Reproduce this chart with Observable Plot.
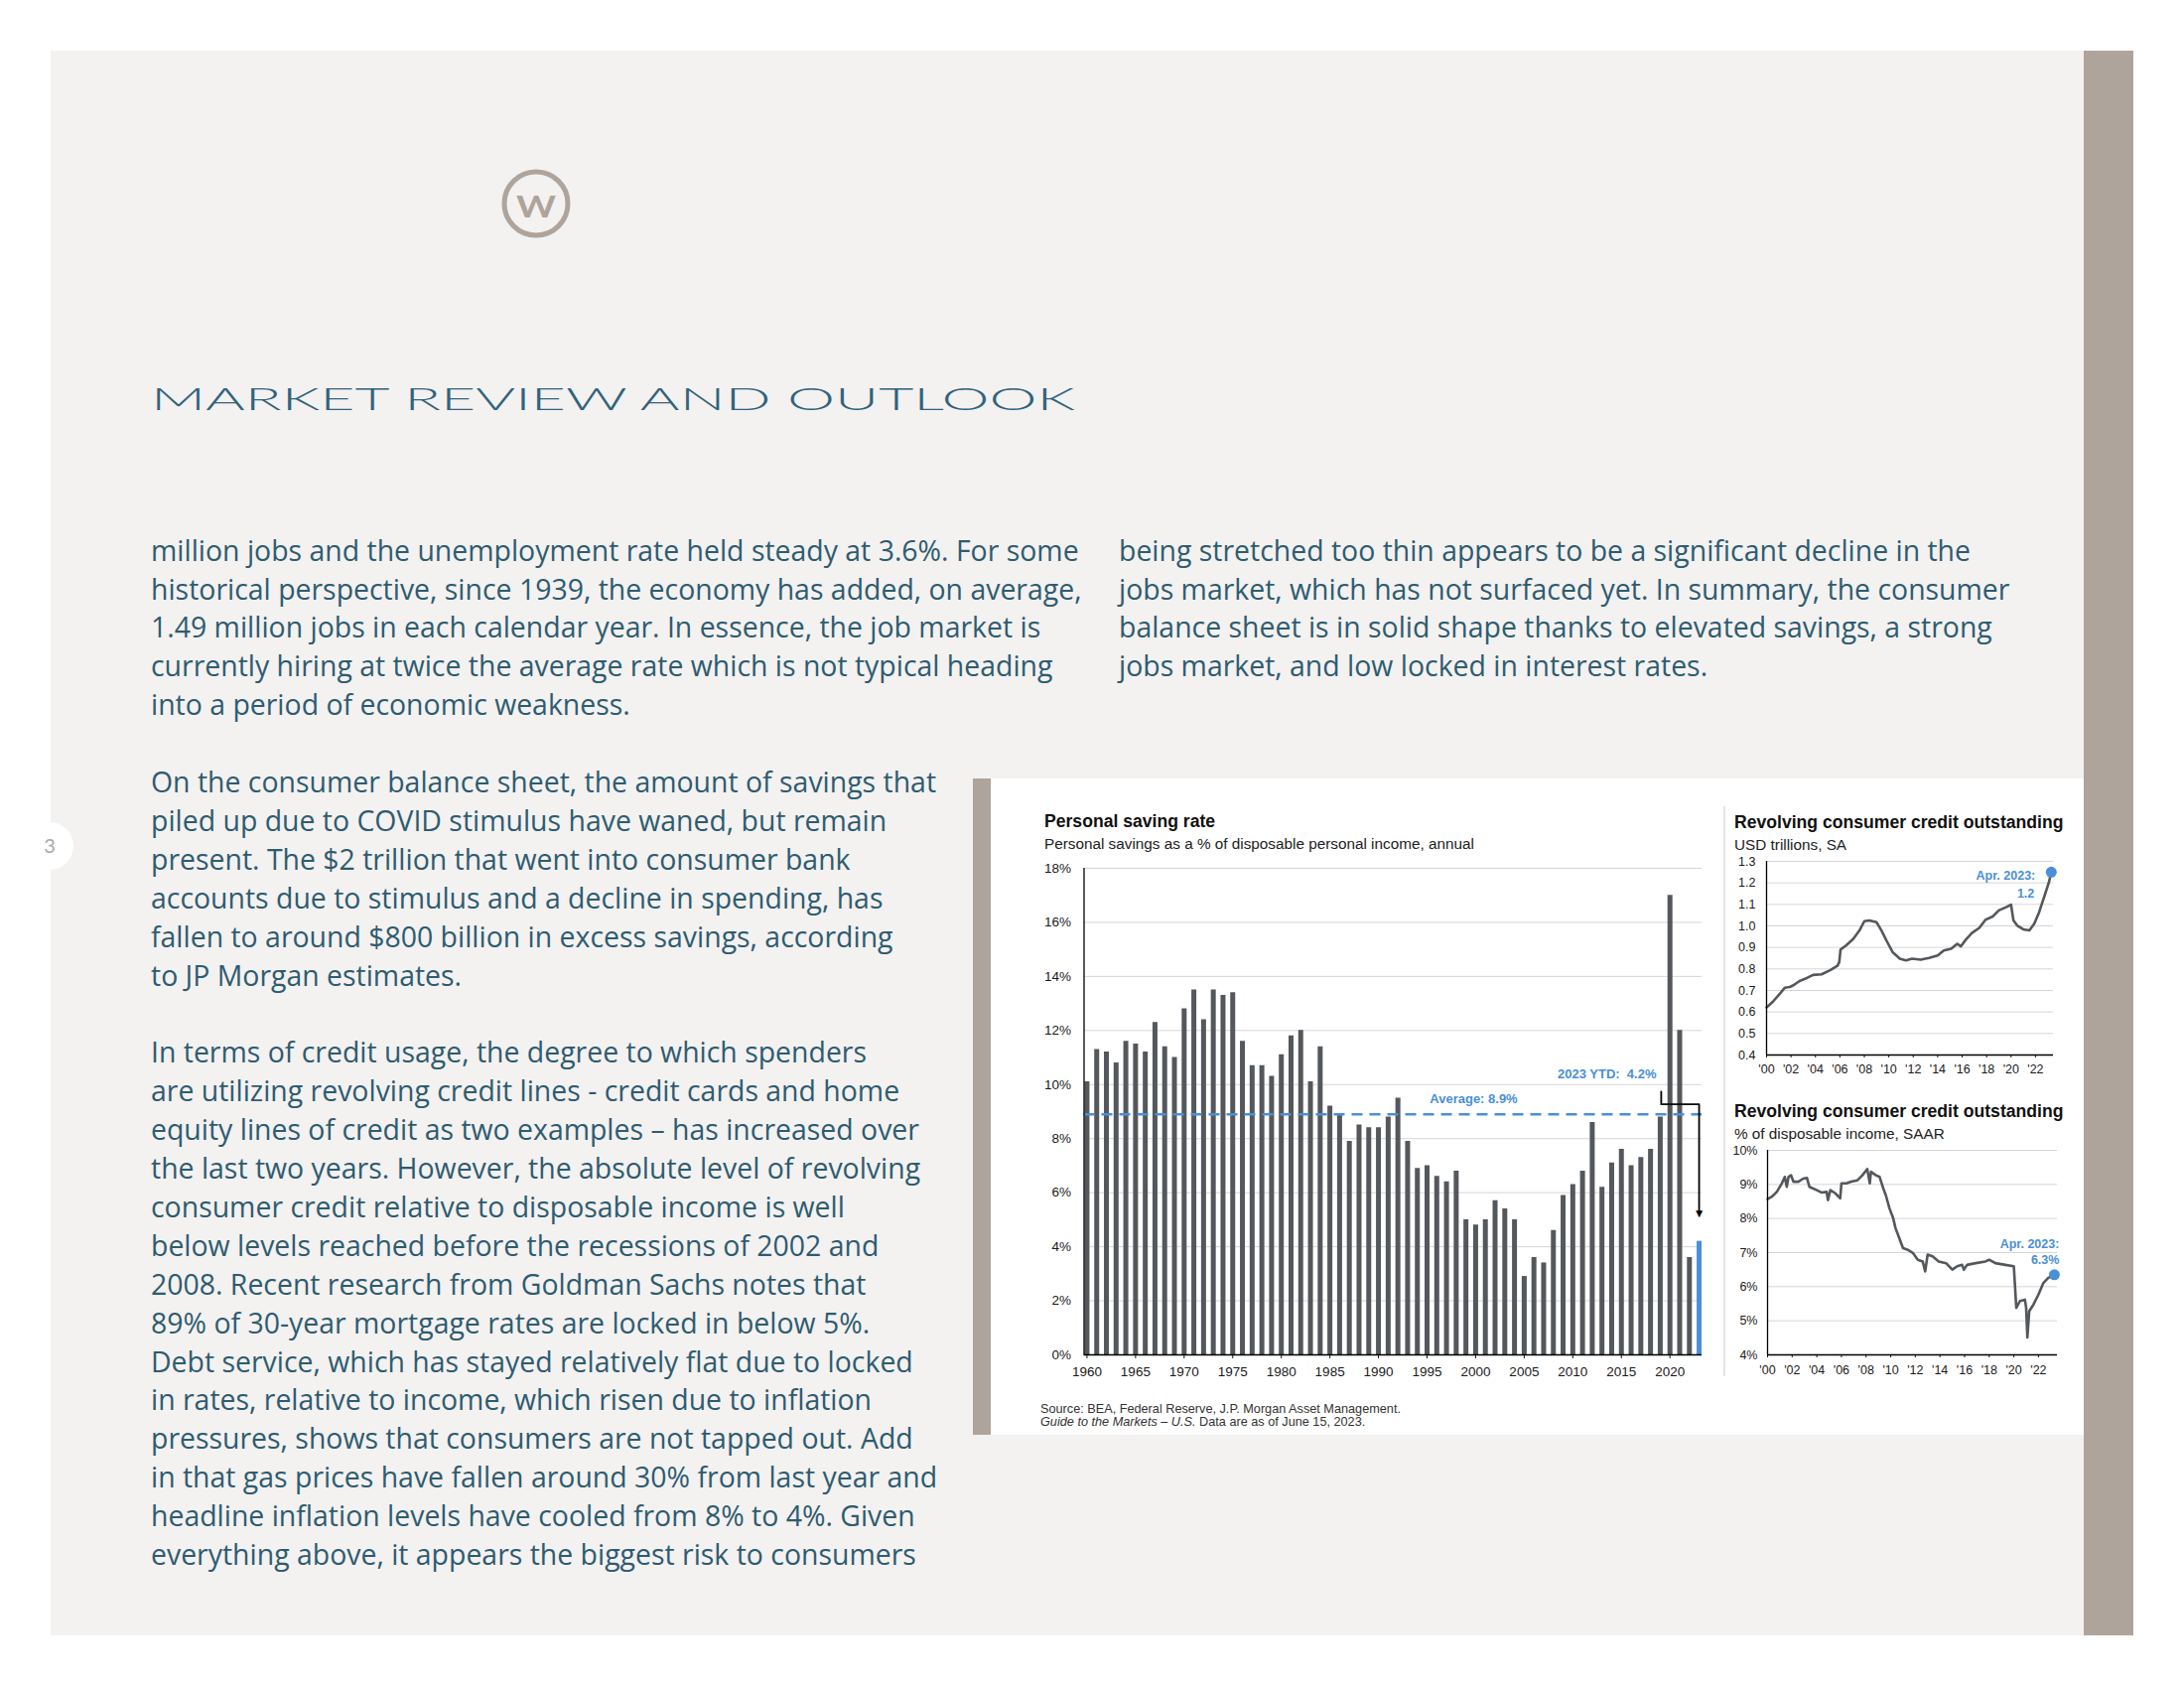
<!DOCTYPE html>
<html><head><meta charset="utf-8">
<script src="https://cdn.jsdelivr.net/npm/d3@7"></script>
<script src="https://cdn.jsdelivr.net/npm/@observablehq/plot@0.6"></script>
<style>
html,body{margin:0;padding:0;background:#fff;}
#page{position:relative;width:2200px;height:1700px;overflow:hidden;}
.abs{position:absolute;}
.ct{position:absolute;font-family:"Liberation Sans",Arial,sans-serif;color:#111;white-space:nowrap;}
.ct.t{font-weight:bold;font-size:17.6px;line-height:20px;}
.ct.s{font-size:15.3px;line-height:20px;color:#222;}
.ct.f{font-size:12.7px;line-height:13px;color:#333;}
</style></head><body><div id="page"></div>
<script>
// ---------------- DATA ----------------
const savingRate = [10.1, 11.3, 11.2, 10.8, 11.6, 11.5, 11.2, 12.3, 11.4, 11.0,
  12.8, 13.5, 12.4, 13.5, 13.3, 13.4, 11.6, 10.7, 10.7, 10.3,
  11.1, 11.8, 12.0, 10.1, 11.4, 9.2, 8.9, 7.9, 8.5, 8.4,
  8.4, 8.8, 9.5, 7.9, 6.9, 7.0, 6.6, 6.4, 6.8, 5.0,
  4.8, 5.0, 5.7, 5.4, 5.0, 2.9, 3.6, 3.4, 4.6, 5.9,
  6.3, 6.8, 8.6, 6.2, 7.1, 7.6, 7.0, 7.3, 7.6, 8.8,
  17.0, 12.0, 3.6];
const savingFirstYear = 1960;
const ytdYear = 2023, ytdRate = 4.2;
const savingAvg = 8.9;
const savingXTicks = [1960, 1965, 1970, 1975, 1980, 1985, 1990, 1995, 2000, 2005, 2010, 2015, 2020];
const savingYTicks = [0, 2, 4, 6, 8, 10, 12, 14, 16, 18];

const creditUsdYear = [2000.0, 2000.5, 2001.1, 2001.5, 2001.9, 2002.2, 2002.7, 2003.3, 2003.8, 2004.5,
  2005.2, 2005.8, 2005.95, 2006.05, 2006.5, 2007.1, 2007.6, 2008.0, 2008.4, 2009.0,
  2009.4, 2009.8, 2010.3, 2010.9, 2011.4, 2011.9, 2012.6, 2013.3, 2014.0, 2014.5,
  2015.1, 2015.6, 2015.9, 2016.3, 2016.8, 2017.4, 2017.9, 2018.5, 2019.0, 2019.6,
  2020.0, 2020.2, 2020.5, 2021.0, 2021.5, 2021.9, 2022.3, 2022.7, 2023.1, 2023.29];
const creditUsd = [0.621, 0.647, 0.686, 0.713, 0.716, 0.724, 0.744, 0.758, 0.772, 0.775,
  0.794, 0.815, 0.832, 0.890, 0.909, 0.940, 0.979, 1.022, 1.025, 1.017,
  0.979, 0.933, 0.879, 0.848, 0.840, 0.848, 0.843, 0.851, 0.863, 0.886,
  0.894, 0.917, 0.905, 0.936, 0.967, 0.991, 1.028, 1.044, 1.072, 1.087,
  1.099, 1.025, 1.002, 0.984, 0.979, 1.010, 1.064, 1.133, 1.203, 1.250];
const usdYTicks = [0.4, 0.5, 0.6, 0.7, 0.8, 0.9, 1.0, 1.1, 1.2, 1.3];

const creditPctYear = [2000.0, 2000.35, 2000.75, 2001.16, 2001.4, 2001.56, 2001.7, 2001.9, 2002.1, 2002.5,
  2002.9, 2003.2, 2003.4, 2004.0, 2004.4, 2004.8, 2004.9, 2005.1, 2005.5, 2005.9,
  2006.0, 2006.4, 2006.8, 2007.3, 2007.7, 2008.1, 2008.3, 2008.4, 2008.8, 2009.1,
  2009.4, 2009.6, 2009.9, 2010.2, 2010.4, 2010.7, 2011.0, 2011.4, 2011.8, 2012.2,
  2012.6, 2012.8, 2013.0, 2013.4, 2013.9, 2014.5, 2015.0, 2015.4, 2015.8, 2015.95,
  2016.2, 2016.9, 2017.7, 2018.0, 2018.5, 2019.3, 2020.0, 2020.2, 2020.5, 2020.9,
  2021.0, 2021.1, 2021.25, 2021.6, 2022.0, 2022.4, 2022.8, 2023.29];
const creditPct = [8.57, 8.64, 8.78, 9.03, 9.22, 8.93, 9.22, 9.27, 9.08, 9.08,
  9.17, 9.19, 8.93, 8.83, 8.76, 8.78, 8.54, 8.83, 8.74, 8.59,
  9.03, 9.03, 9.08, 9.12, 9.27, 9.45, 9.03, 9.37, 9.27, 9.22,
  8.88, 8.69, 8.30, 8.01, 7.71, 7.42, 7.13, 7.08, 6.99, 6.79,
  6.74, 6.45, 6.94, 6.89, 6.74, 6.69, 6.50, 6.60, 6.64, 6.50,
  6.64, 6.69, 6.74, 6.79, 6.69, 6.64, 6.60, 5.38, 5.58, 5.62,
  5.38, 4.51, 5.28, 5.48, 5.77, 6.11, 6.26, 6.35];
const pctYTicks = [4, 5, 6, 7, 8, 9, 10];
const creditXTicks = [2000, 2002, 2004, 2006, 2008, 2010, 2012, 2014, 2016, 2018, 2020, 2022];

// ---------------- PAGE TEXT ----------------
const para1 = [
  "million jobs and the unemployment rate held steady at 3.6%. For some",
  "historical perspective, since 1939, the economy has added, on average,",
  "1.49 million jobs in each calendar year. In essence, the job market is",
  "currently hiring at twice the average rate which is not typical heading",
  "into a period of economic weakness."];
const para2 = [
  "On the consumer balance sheet, the amount of savings that",
  "piled up due to COVID stimulus have waned, but remain",
  "present. The $2 trillion that went into consumer bank",
  "accounts due to stimulus and a decline in spending, has",
  "fallen to around $800 billion in excess savings, according",
  "to JP Morgan estimates."];
const para3 = [
  "In terms of credit usage, the degree to which spenders",
  "are utilizing revolving credit lines - credit cards and home",
  "equity lines of credit as two examples – has increased over",
  "the last two years. However, the absolute level of revolving",
  "consumer credit relative to disposable income is well",
  "below levels reached before the recessions of 2002 and",
  "2008. Recent research from Goldman Sachs notes that",
  "89% of 30-year mortgage rates are locked in below 5%.",
  "Debt service, which has stayed relatively flat due to locked",
  "in rates, relative to income, which risen due to inflation",
  "pressures, shows that consumers are not tapped out. Add",
  "in that gas prices have fallen around 30% from last year and",
  "headline inflation levels have cooled from 8% to 4%. Given",
  "everything above, it appears the biggest risk to consumers"];
const paraRight = [
  "being stretched too thin appears to be a significant decline in the",
  "jobs market, which has not surfaced yet. In summary, the consumer",
  "balance sheet is in solid shape thanks to elevated savings, a strong",
  "jobs market, and low locked in interest rates."];

// ---------------- STYLE ----------------
const blue = "#4a8fd8";
const barGray = "#54585c";
const gridGray = "#d6d6d6";
const taupe = "#afa49b";
const textTeal = "#2d5c70";

const page = d3.select("#page");

// background layer
const bg = page.append("svg").attr("class", "abs").style("left", "0px").style("top", "0px")
  .attr("width", 2200).attr("height", 1700);
bg.append("rect").attr("x", 51).attr("y", 51).attr("width", 2048).attr("height", 1596).attr("fill", "#f4f1f1");
bg.append("rect").attr("x", 2099).attr("y", 51).attr("width", 50).attr("height", 1596).attr("fill", taupe);
bg.append("circle").attr("cx", 50).attr("cy", 852).attr("r", 24).attr("fill", "#fff");
bg.append("text").attr("x", 50).attr("y", 859).attr("text-anchor", "middle")
  .attr("font-family", "Lato, sans-serif").attr("font-size", 20).attr("fill", "#a9a9a9").text("3");
// logo
bg.append("circle").attr("cx", 540).attr("cy", 205).attr("r", 32)
  .attr("fill", "none").attr("stroke", taupe).attr("stroke-width", 5);
bg.append("text").attr("x", 540).attr("y", 219).attr("text-anchor", "middle")
  .attr("font-family", "Lato, sans-serif").attr("font-weight", 700).attr("font-size", 30)
  .attr("textLength", 40).attr("lengthAdjust", "spacingAndGlyphs").attr("fill", taupe).text("W");
// title
bg.append("text").attr("x", 152).attr("y", 413)
  .attr("font-family", "Lato, sans-serif").attr("font-weight", 300).attr("font-size", 32)
  .attr("textLength", 931).attr("lengthAdjust", "spacingAndGlyphs")
  .attr("fill", "#30637c").text("MARKET REVIEW AND OUTLOOK");

// body text
const lh = 38.9;
const bodyLines = [];
para1.forEach((t, i) => bodyLines.push({t, x: 152, y: 564.6 + i * lh}));
para2.forEach((t, i) => bodyLines.push({t, x: 152, y: 798 + i * lh}));
para3.forEach((t, i) => bodyLines.push({t, x: 152, y: 1070.3 + i * lh}));
paraRight.forEach((t, i) => bodyLines.push({t, x: 1127, y: 564.6 + i * lh}));
const bodySel = bg.selectAll("text.body").data(bodyLines).join("text").attr("class", "body")
  .attr("x", d => d.x).attr("y", d => d.y)
  .attr("font-family", "'Open Sans', sans-serif").attr("font-size", 26)
  .attr("fill", textTeal).style("white-space", "pre").text(d => d.t);
const w0 = bodySel.node().getComputedTextLength();
if (w0 > 0) bodySel.attr("font-size", 26 * 935 / w0);

// chart box
bg.append("rect").attr("x", 980).attr("y", 784).attr("width", 18).attr("height", 661).attr("fill", taupe);
bg.append("rect").attr("x", 998).attr("y", 784).attr("width", 1101).attr("height", 661).attr("fill", "#fff");
bg.append("line").attr("x1", 1737).attr("x2", 1737).attr("y1", 812).attr("y2", 1386)
  .attr("stroke", "#d3d3d3").attr("stroke-width", 1.2);

function place(node, left, top) {
  const d = page.append("div").attr("class", "abs").style("left", left + "px").style("top", top + "px");
  d.node().appendChild(node);
}
const axisStyle = {background: "transparent", fontFamily: "'Liberation Sans', Arial, sans-serif", color: "#1a1a1a", overflow: "visible"};

// ---------------- CHART 1: Personal saving rate ----------------
const savingData = savingRate.map((rate, i) => ({year: savingFirstYear + i, rate}));
const ytdData = [{year: ytdYear, rate: ytdRate}];
const xDom1 = [1959.7, 2023.3];
const arrowPath = [{x: 2019.1, y: 9.74}, {x: 2019.1, y: 9.27}, {x: 2023.0, y: 9.27}, {x: 2023.0, y: 5.3}];
const p1 = Plot.plot({
  width: 730, height: 540, marginLeft: 91.5, marginRight: 16, marginTop: 14, marginBottom: 36,
  style: {...axisStyle, fontSize: "13.5px"},
  x: {domain: xDom1, ticks: savingXTicks, tickFormat: d => String(d), tickSize: 4, tickPadding: 8, label: null},
  y: {domain: [0, 18], ticks: savingYTicks, tickFormat: d => d + "%", tickSize: 0, tickPadding: 13, label: null},
  marks: [
    Plot.ruleY(savingYTicks.filter(d => d > 0), {stroke: gridGray, strokeWidth: 1}),
    Plot.ruleX(savingData, {x: "year", y1: 0, y2: "rate", stroke: barGray, strokeWidth: 5}),
    Plot.ruleX(ytdData, {x: "year", y1: 0, y2: "rate", stroke: blue, strokeWidth: 5}),
    Plot.ruleY([savingAvg], {stroke: blue, strokeWidth: 2.5, strokeDasharray: "11,7"}),
    Plot.line(arrowPath, {x: "x", y: "y", stroke: "#000", strokeWidth: 1.8}),
    Plot.text([arrowPath[3]], {x: "x", y: "y", text: () => "▼", fill: "#000", fontSize: 12, dy: 2}),
    Plot.text([{x: 1999.8, y: savingAvg}], {x: "x", y: "y", text: () => "Average: " + savingAvg + "%", fill: blue, fontWeight: "bold", fontSize: 13, dy: -15}),
    Plot.text(ytdData, {x: () => 2018.6, y: () => 10.4, text: d => d.year + " YTD:  " + d.rate + "%", textAnchor: "end", fill: blue, fontWeight: "bold", fontSize: 13}),
    Plot.ruleX([xDom1[0]], {stroke: "#000", strokeWidth: 1.3}),
    Plot.ruleY([0], {stroke: "#000", strokeWidth: 1.3})
  ]
});
place(p1, 1000, 860);

// ---------------- CHART 2: Revolving credit, USD ----------------
const usdData = creditUsdYear.map((t, i) => ({t, v: creditUsd[i]}));
const xDom2 = [2000, 2023.47];
const p2 = Plot.plot({
  width: 340, height: 233, marginLeft: 39, marginRight: 12, marginTop: 12, marginBottom: 26,
  style: {...axisStyle, fontSize: "12.5px"},
  x: {domain: xDom2, ticks: creditXTicks, tickFormat: d => "'" + String(d).slice(2), tickSize: 3, tickPadding: 7, label: null},
  y: {domain: [0.4, 1.3], ticks: usdYTicks, tickFormat: d => d.toFixed(1), tickSize: 0, tickPadding: 11, label: null},
  marks: [
    Plot.ruleY(usdYTicks.filter(d => d > 0.4), {stroke: gridGray}),
    Plot.line(usdData, {x: "t", y: "v", stroke: barGray, strokeWidth: 2.6}),
    Plot.dot(usdData.slice(-1), {x: "t", y: "v", r: 5.5, fill: blue}),
    Plot.text(usdData.slice(-1), {x: "t", y: "v", text: () => "Apr. 2023:", textAnchor: "end", dx: -16, dy: 4, fill: blue, fontWeight: "bold", fontSize: 12.5}),
    Plot.text(usdData.slice(-1), {x: "t", y: "v", text: () => "1.2", textAnchor: "end", dx: -17, dy: 22, fill: blue, fontWeight: "bold", fontSize: 12.5}),
    Plot.ruleX([xDom2[0]], {stroke: "#000", strokeWidth: 1.3}),
    Plot.ruleY([0.4], {stroke: "#000", strokeWidth: 1.3})
  ]
});
place(p2, 1740, 855);

// ---------------- CHART 3: Revolving credit, % of income ----------------
const pctData = creditPctYear.map((t, i) => ({t, v: creditPct[i]}));
const xDom3 = [2000, 2023.54];
const p3 = Plot.plot({
  width: 342, height: 244, marginLeft: 40, marginRight: 10, marginTop: 12, marginBottom: 26,
  style: {...axisStyle, fontSize: "12.5px"},
  x: {domain: xDom3, ticks: creditXTicks, tickFormat: d => "'" + String(d).slice(2), tickSize: 3, tickPadding: 8, label: null},
  y: {domain: [4, 10], ticks: pctYTicks, tickFormat: d => d + "%", tickSize: 0, tickPadding: 10, label: null},
  marks: [
    Plot.ruleY(pctYTicks.filter(d => d > 4), {stroke: gridGray}),
    Plot.line(pctData, {x: "t", y: "v", stroke: barGray, strokeWidth: 2.6}),
    Plot.dot(pctData.slice(-1), {x: "t", y: "v", r: 5.5, fill: blue}),
    Plot.text(pctData.slice(-1), {x: "t", y: "v", text: () => "Apr. 2023:", textAnchor: "end", dx: 5, dy: -31, fill: blue, fontWeight: "bold", fontSize: 12.5}),
    Plot.text(pctData.slice(-1), {x: "t", y: "v", text: () => "6.3%", textAnchor: "end", dx: 5, dy: -15, fill: blue, fontWeight: "bold", fontSize: 12.5}),
    Plot.ruleX([xDom3[0]], {stroke: "#000", strokeWidth: 1.3}),
    Plot.ruleY([4], {stroke: "#000", strokeWidth: 1.3})
  ]
});
place(p3, 1740, 1146);

// ---------------- CHART TITLES / NOTES ----------------
function label(cls, left, top, html) {
  page.append("div").attr("class", "ct " + cls).style("left", left + "px").style("top", top + "px").html(html);
}
label("t", 1052, 817, "Personal saving rate");
label("s", 1052, 840, "Personal savings as a % of disposable personal income, annual");
label("t", 1747, 818, "Revolving consumer credit outstanding");
label("s", 1747, 841, "USD trillions, SA");
label("t", 1747, 1109, "Revolving consumer credit outstanding");
label("s", 1747, 1132, "% of disposable income, SAAR");
label("f", 1048, 1413, "Source: BEA, Federal Reserve, J.P. Morgan Asset Management.");
label("f", 1048, 1426, "<i>Guide to the Markets – U.S.</i> Data are as of June 15, 2023.");
</script></body></html>
